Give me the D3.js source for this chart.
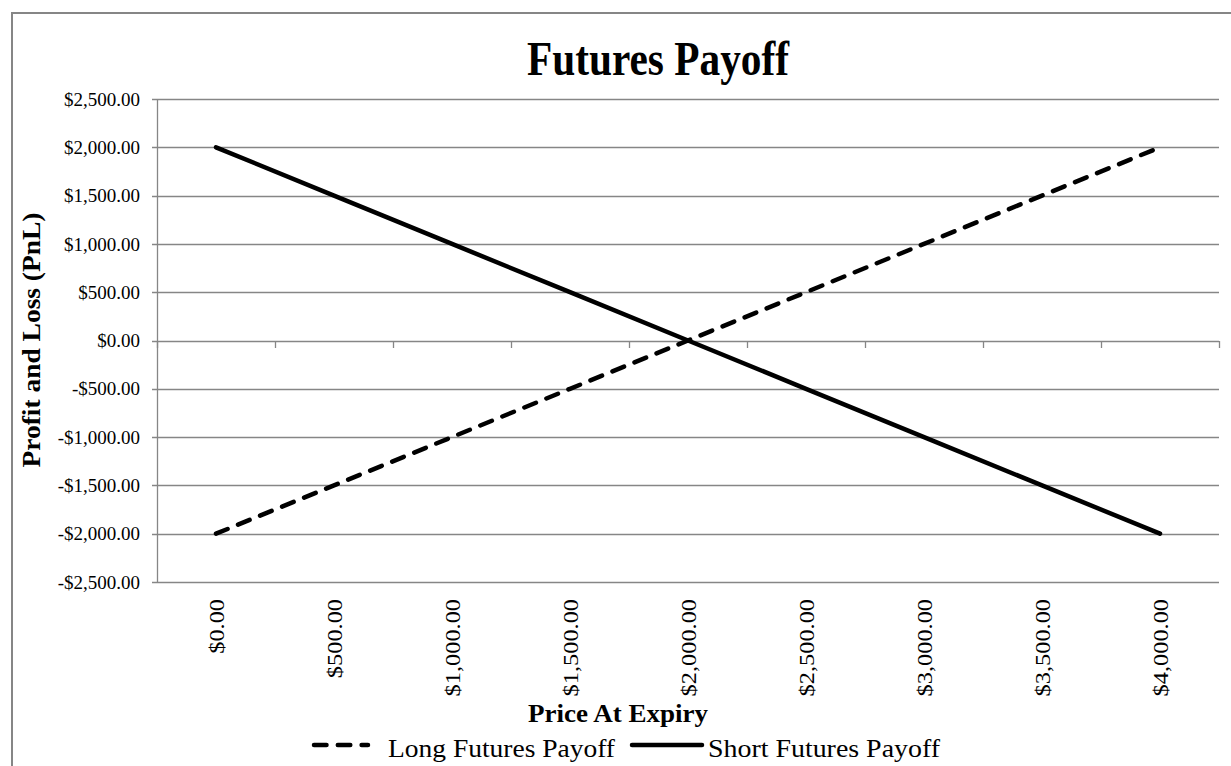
<!DOCTYPE html>
<html>
<head>
<meta charset="utf-8">
<script src="https://cdn.jsdelivr.net/npm/d3@7"></script>
<style>
  body { margin: 0; background: #fff; }
  text { font-family: 'Liberation Serif', 'Times New Roman', serif; fill: #000; }
</style>
</head>
<body>
<div id="container"></div>
<script>
// price at expiry categories
var prices = [0, 500, 1000, 1500, 2000, 2500, 3000, 3500, 4000]
var longPayoff = [-2000, -1500, -1000, -500, 0, 500, 1000, 1500, 2000]
var shortPayoff = [2000, 1500, 1000, 500, 0, -500, -1000, -1500, -2000]
var yTicks = [-2500, -2000, -1500, -1000, -500, 0, 500, 1000, 1500, 2000, 2500]

var width = 1231
var height = 766
var grey = '#868686'

var money = function (v) {
  return (v < 0 ? '-' : '') + '$' + d3.format(',.2f')(Math.abs(v))
}

var svg = d3.select('#container').append('svg')
  .attr('width', width)
  .attr('height', height)

// chart border (runs off the right and bottom of the picture)
svg.append('rect')
  .attr('x', 12).attr('y', 13)
  .attr('width', 1240).attr('height', 780)
  .attr('fill', 'none')
  .attr('stroke', grey)
  .attr('stroke-width', 2)

var x = d3.scaleBand()
  .domain(prices)
  .range([157, 1219])

var y = d3.scaleLinear()
  .domain([-2500, 2500])
  .range([582, 99])

// horizontal gridlines
svg.append('g')
  .selectAll('line')
  .data(yTicks)
  .enter().append('line')
  .attr('x1', 152).attr('x2', 1219)
  .attr('y1', function (d) { return Math.round(y(d)) + 0.5 })
  .attr('y2', function (d) { return Math.round(y(d)) + 0.5 })
  .attr('stroke', grey)
  .attr('stroke-width', 1.3)

// vertical axis line
svg.append('line')
  .attr('x1', 157.5).attr('x2', 157.5)
  .attr('y1', y(2500)).attr('y2', y(-2500))
  .attr('stroke', grey)
  .attr('stroke-width', 1.3)

// category tick marks on the zero line
var bounds = prices.map(function (p) { return x(p) }).concat([x.range()[1]])
svg.append('g')
  .selectAll('line')
  .data(bounds)
  .enter().append('line')
  .attr('x1', function (d) { return Math.round(d) + 0.5 })
  .attr('x2', function (d) { return Math.round(d) + 0.5 })
  .attr('y1', Math.round(y(0)))
  .attr('y2', Math.round(y(0)) + 7)
  .attr('stroke', grey)
  .attr('stroke-width', 1.3)

// y tick labels
svg.append('g')
  .selectAll('text')
  .data(yTicks)
  .enter().append('text')
  .attr('x', 140)
  .attr('y', function (d) { return y(d) })
  .attr('dy', '0.35em')
  .attr('text-anchor', 'end')
  .style('font-size', '19px')
  .text(money)

// x tick labels, rotated
svg.append('g')
  .selectAll('text')
  .data(prices)
  .enter().append('text')
  .attr('text-anchor', 'end')
  .attr('dy', '0.35em')
  .attr('transform', function (d) {
    return 'translate(' + (x(d) + x.bandwidth() / 2 + 1) + ',599) rotate(-90) scale(1.16,1)'
  })
  .style('font-size', '21px')
  .text(money)

// series
var line = d3.line()
  .x(function (d, i) { return x(prices[i]) + x.bandwidth() / 2 })
  .y(function (d) { return y(d) })

svg.append('path')
  .datum(longPayoff)
  .attr('d', line)
  .attr('fill', 'none')
  .attr('stroke', '#000')
  .attr('stroke-width', 4.5)
  .attr('stroke-linecap', 'round')
  .attr('stroke-dasharray', '12.5,11.3')

svg.append('path')
  .datum(shortPayoff)
  .attr('d', line)
  .attr('fill', 'none')
  .attr('stroke', '#000')
  .attr('stroke-width', 4.5)
  .attr('stroke-linecap', 'round')

// titles
svg.append('text')
  .attr('x', 658).attr('y', 75)
  .attr('text-anchor', 'middle')
  .attr('textLength', 262)
  .attr('lengthAdjust', 'spacingAndGlyphs')
  .style('font-size', '48px')
  .style('font-weight', 'bold')
  .text('Futures Payoff')

svg.append('text')
  .attr('transform', 'translate(40,340) rotate(-90)')
  .attr('text-anchor', 'middle')
  .attr('textLength', 255)
  .attr('lengthAdjust', 'spacingAndGlyphs')
  .style('font-size', '26px')
  .style('font-weight', 'bold')
  .text('Profit and Loss (PnL)')

svg.append('text')
  .attr('x', 618).attr('y', 722)
  .attr('text-anchor', 'middle')
  .attr('textLength', 180)
  .attr('lengthAdjust', 'spacingAndGlyphs')
  .style('font-size', '26px')
  .style('font-weight', 'bold')
  .text('Price At Expiry')

// legend
var legend = svg.append('g')

legend.append('line')
  .attr('x1', 314).attr('x2', 368)
  .attr('y1', 745).attr('y2', 745)
  .attr('stroke', '#000')
  .attr('stroke-width', 4.5)
  .attr('stroke-linecap', 'round')
  .attr('stroke-dasharray', '12.5,11.3')

legend.append('text')
  .attr('x', 388).attr('y', 757)
  .attr('textLength', 227)
  .attr('lengthAdjust', 'spacingAndGlyphs')
  .style('font-size', '25px')
  .text('Long Futures Payoff')

legend.append('line')
  .attr('x1', 632).attr('x2', 702)
  .attr('y1', 745).attr('y2', 745)
  .attr('stroke', '#000')
  .attr('stroke-width', 4.5)
  .attr('stroke-linecap', 'round')

legend.append('text')
  .attr('x', 708).attr('y', 757)
  .attr('textLength', 232)
  .attr('lengthAdjust', 'spacingAndGlyphs')
  .style('font-size', '25px')
  .text('Short Futures Payoff')
</script>
</body>
</html>
